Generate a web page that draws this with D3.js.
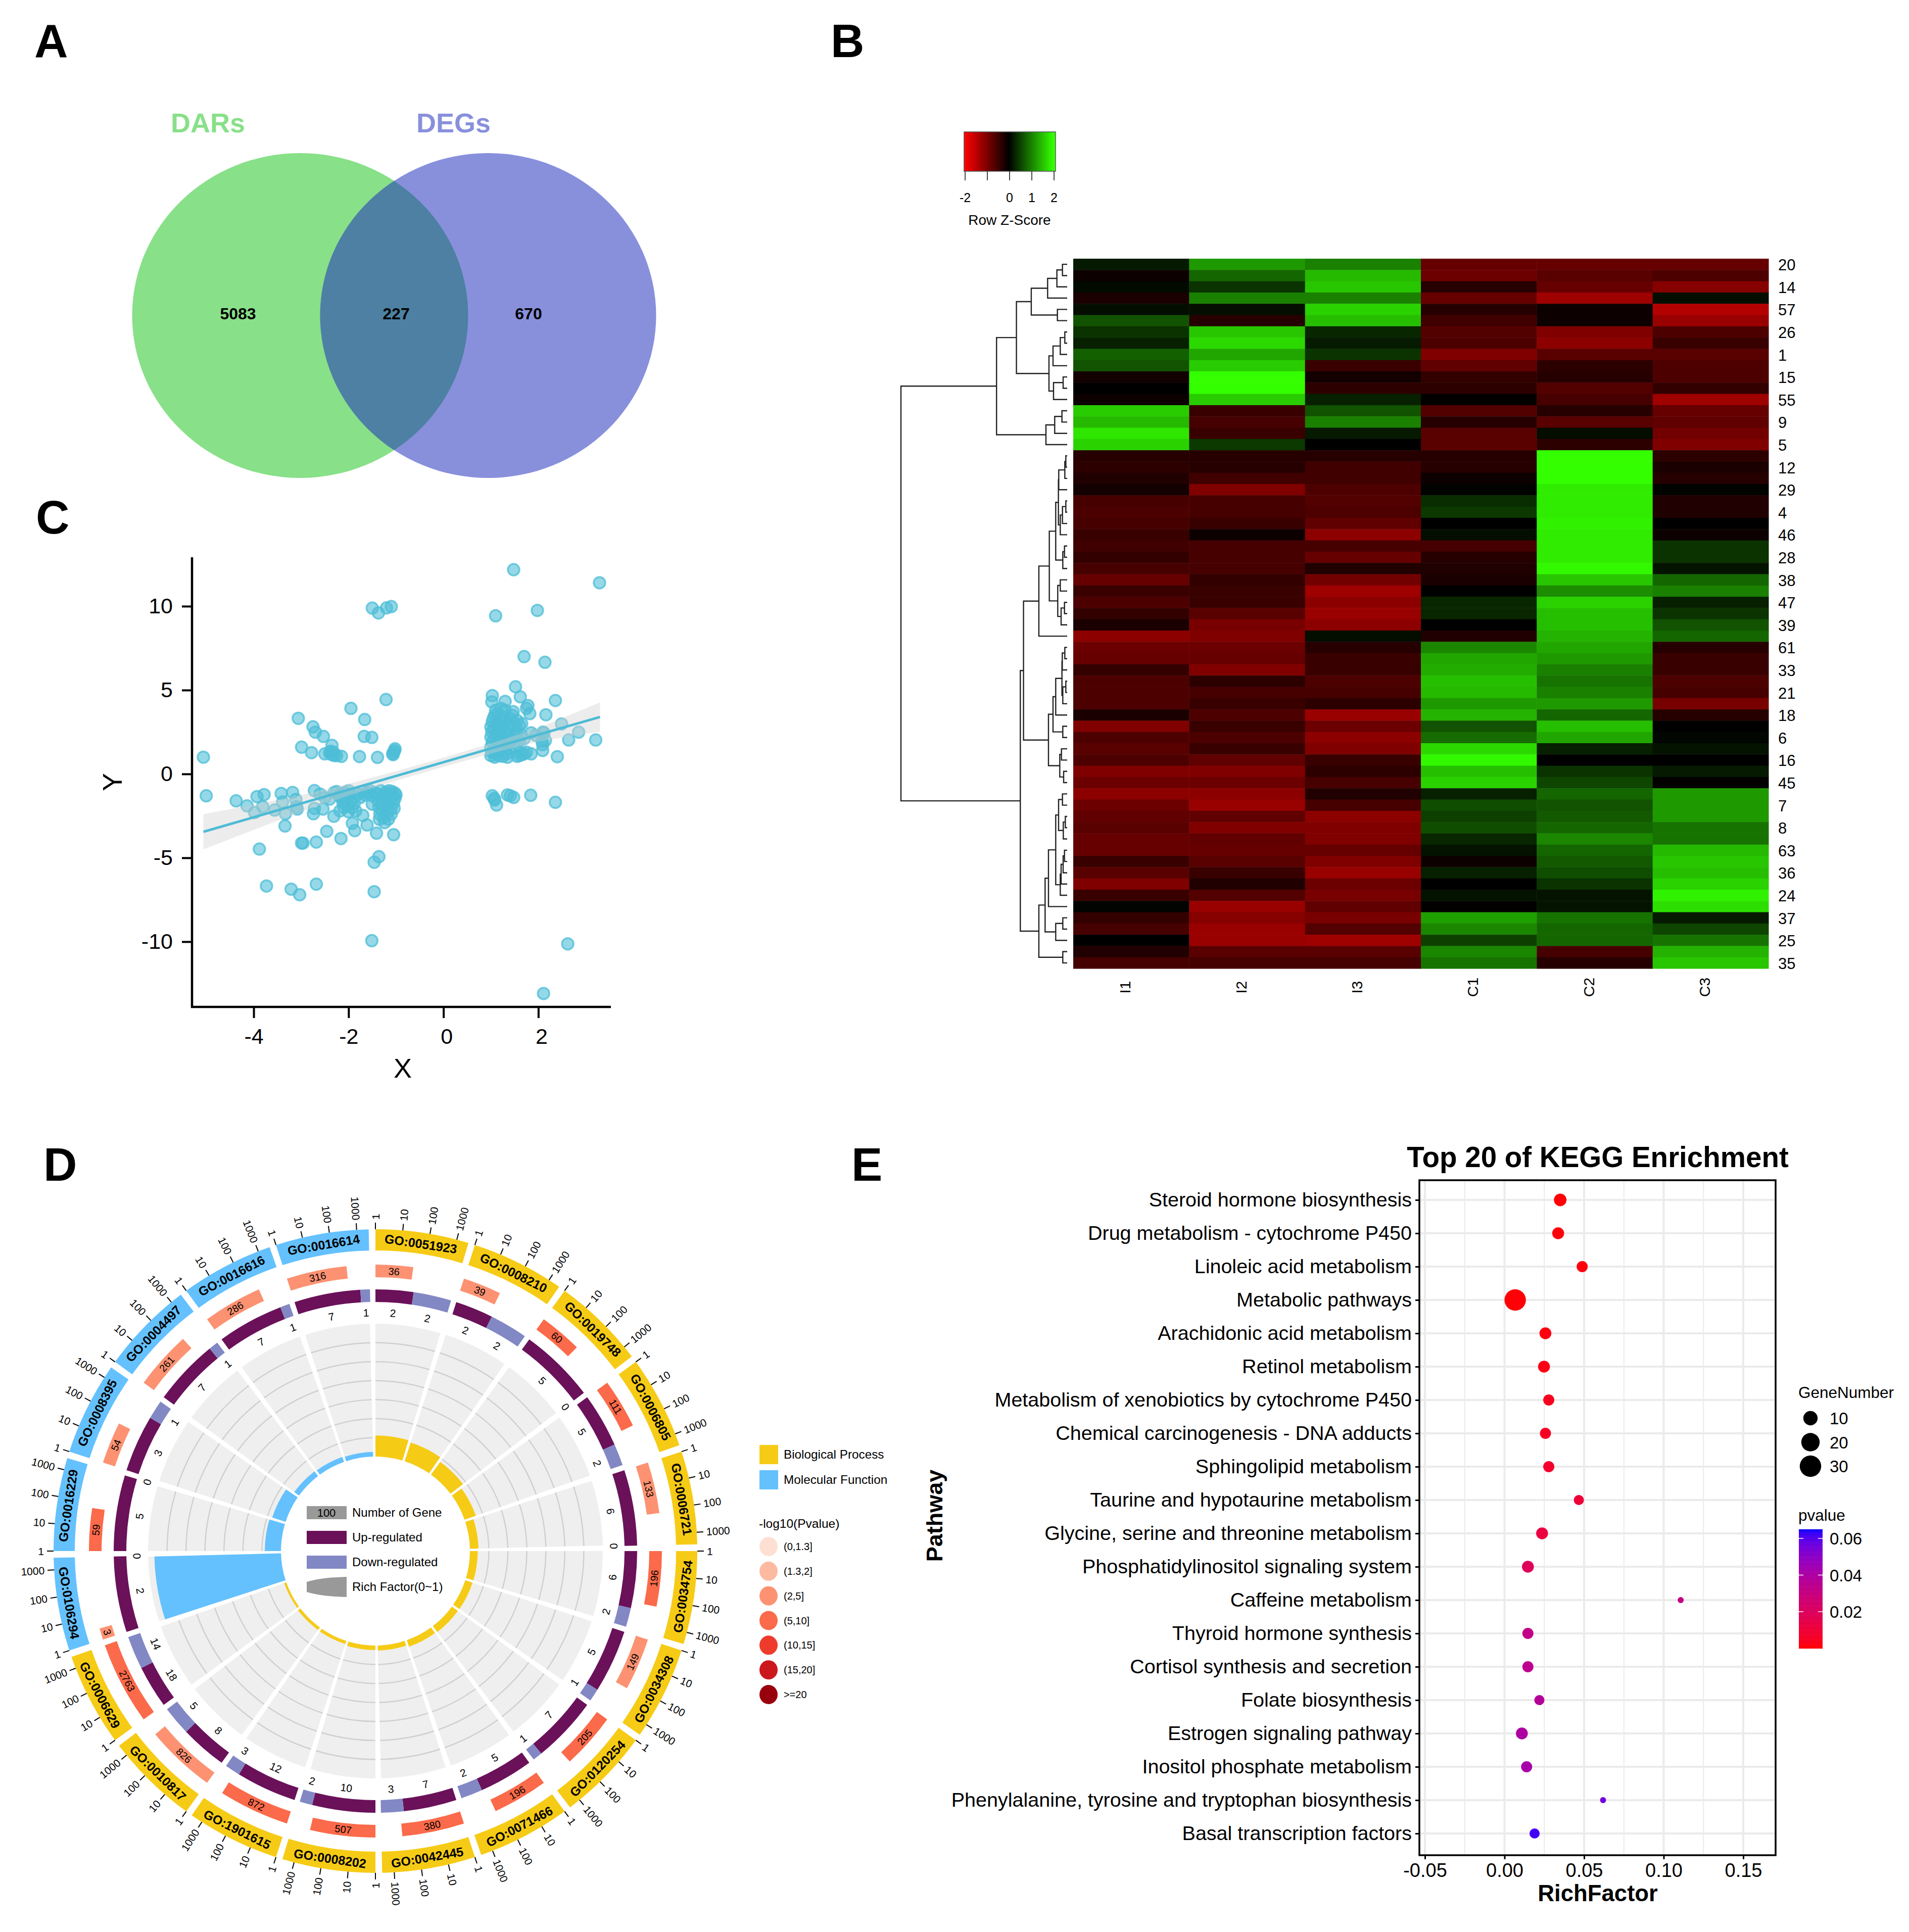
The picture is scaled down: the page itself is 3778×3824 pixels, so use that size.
<!DOCTYPE html>
<html><head><meta charset="utf-8">
<style>html,body{margin:0;padding:0;background:#fff}svg{display:block}text{font-family:"Liberation Sans",Arial,sans-serif}</style>
<script src="https://cdn.jsdelivr.net/npm/d3@7"></script></head><body>
<script>
// ---------- Panel A
const vennSets = ["DARs","DEGs"];
const vennCounts = [5083,227,670];
// ---------- Panel B
const heatCols = ["I1","I2","I3","C1","C2","C3"];
const heatRowLabels = [20,14,57,26,1,15,55,9,5,12,29,4,46,28,38,47,39,61,33,21,18,6,16,45,7,8,63,36,24,37,25,35];
const heatZ = [
[.2,1.2,1,-.8,-.8,-.8],[-.1,.8,1.45,-.85,-.7,-.6],[.08,.4,1.55,-.3,-.8,-1.05],[-.2,1,1,-.8,-1.25,.1],
[.1,.1,1.65,-.3,-.1,-1.4],[.65,-.3,1.5,-.5,-.1,-1.2],[.4,1.55,.3,-.65,-1,-.6],[.25,1.7,.2,-.6,-1.1,-.45],
[.75,1.3,.4,-1,-.7,-.7],[.65,1.6,-.45,-.75,-.35,-.6],[-.15,2,-.15,-.4,-.3,-.6],[0,2,-.35,-.35,-.65,-.4],
[-.1,1.6,.25,-.02,-.55,-1.25],[1.6,-.45,.65,-.65,-.3,-.8],[1.45,-.55,1,-.3,-.7,-.75],[1.8,-.45,.2,-.7,.1,-.9],
[1.65,.45,0,-.7,-.35,-1],[-.3,-.3,-.3,-.3,2,-.35],[-.35,-.3,-.5,-.3,2,-.2],[-.25,-.5,-.5,-.1,2,-.3],
[-.15,-1,-.6,.02,1.85,.02],[-.55,-.55,-.65,.35,1.85,-.25],[-.6,-.55,-.6,.45,1.85,-.25],[-.55,-.45,-.75,0,1.9,0],
[-.45,-.1,-1.1,.1,1.85,-.1],[-.5,-.55,-.55,-.55,1.85,.4],[-.4,-.55,-.8,-.3,1.85,.4],[-.55,-.55,-.25,-.25,1.95,.15],
[-.8,-.4,-.9,-.2,1.55,.8],[-.45,-.45,-1.25,0,1.1,1],[-.6,-.45,-1.1,.3,1.65,.25],[-.4,-.7,-1.2,.3,1.5,.4],
[-.2,-.95,-1.1,0,1.5,.65],[-1.1,-1,.1,-.25,1.4,.8],[-.85,-.85,-.3,1.05,1.3,-.3],[-.8,-.8,-.45,1.3,1.2,-.45],
[-.4,-1,-.45,1.35,1,-.45],[-.6,-.35,-.6,1.5,.9,-.6],[-.6,-.55,-.55,1.45,1,-.55],[-.6,-.45,-.35,1.2,1.2,-.95],
[-.2,-.6,-1.2,1.4,.8,-.3],[-1,-.45,-.85,.65,1.5,0],[-.6,-.6,-1.1,.85,1.3,.05],[-.7,-.45,-1,1.7,.25,.15],
[-.6,-.75,-.45,1.95,0,0],[-1,-1,-.35,1.5,.4,.2],[-.85,-.85,-.55,1.65,.55,-.02],[-1.1,-1.1,-.25,.25,.8,1.2],
[-.85,-1.2,-.55,.6,.65,1.2],[-.75,-.75,-1.1,.5,.7,1.2],[-.7,-1,-1,.6,.8,.9],[-.8,-.75,-1,.3,1.05,.9],
[-.8,-.8,-.8,.15,.8,1.45],[-.45,-.7,-1,-.1,.7,1.55],[-.7,-.45,-1.2,.25,.6,1.5],[-1,-.25,-.85,0,.4,1.65],
[-.45,-.65,-.95,.15,.15,1.9],[.03,-1.2,-.75,-.02,.15,1.75],[-.4,-1.05,-.95,1.25,.9,.2],[-.55,-1.2,-.65,1.05,.8,.55],
[0,-1.2,-1.25,.5,.8,.9],[-.25,-.7,-.7,1.05,-.55,1.4],[-.55,-.55,-.55,.9,-.3,1.55]];
// dendrogram: [height, child, child]; numbers are 1-based row positions
const rowTree = [9.86,
 [4.19,
  [3.01,
   [2.13,[1.16,[.61,[.28,1,2],3],4],[.58,5,6]],
   [1.08,[.84,[.41,[.14,7,8],9],10],[.81,[.24,11,12],13]]],
  [1.26,[.74,[.31,14,15],16],17]],
 [2.78,
  [2.59,
   [1.68,
    [1.06,
     [.68,[.52,[.5,[.14,[.08,18,19],20],21],[.41,[.28,[.08,22,23],24],25]],[.26,[.16,26,27],28]],
     [.56,[.41,29,30],[.36,[.16,31,32],33]]],
    34],
   [1.11,
    [.84,[.68,[.31,[.29,[.14,35,36],37],[.26,[.08,38,39],40]],41],[.26,42,43]],
    [.44,[.34,44,45],[.21,46,47]]]],
  [1.68,
   [1.31,
    [1.11,[.68,[.51,[.28,48,49],[.23,[.11,50,51],52]],[.41,[.36,[.24,[.16,53,54],55],56],57]],58],
    [.68,[.26,59,60],61]],
   [.26,62,63]]]];
const zKeyTicks = [-2,0,1,2];
// ---------- Panel C
const scatterPoints = [
[-5.06,1],[-5,-1.3],[-4.37,-1.6],[-4.14,-1.9],[-3.98,-2.3],[-3.93,-1.35],[-3.78,-1.23],[-3.81,-1.95],[-3.56,-2.15],[-3.42,-1.16],[-3.39,-1.67],[-3.33,-2.37],[-3.34,-3.1],[-3.18,-1.1],[-3.11,-1.52],[-3.08,-2.09],[-3.1,-1.95],[-2.99,-4.12],[-2.96,-4.12],[-3.88,-4.48],[-3.73,-6.68],[-3.21,-6.87],[-3.03,-7.2],[-2.68,-6.57],[-2.68,-4.06],[-2.46,-3.42],[-2.16,-3.85],
[-3.06,3.32],[-2.99,1.6],[-2.78,1.27],[-2.75,2.81],[-2.7,2.49],[-2.53,2.24],[-2.35,1.71],[-2.5,1.2],[-2.4,1.25],[-2.35,1.15],[-2.3,1.1],[-2.25,1.1],[-2.15,1.05],[-2.38,1.35],[-2.32,1.3],[-1.95,3.91],[-1.66,3.25],[-1.67,2.24],[-1.51,2.18],[-1.77,1.04],[-1.39,.99],[-1.21,4.44],[-1.07,1.2],[-1.05,1.3],[-1.03,1.4],[-1.02,1.5],[-1.06,1.15],
[-1.5,9.89],[-1.37,9.6],[-1.2,9.9],[-1.1,9.98],[-1.51,-9.94],[-1.46,-7.02],[-1.46,-5.26],[-1.36,-4.93],[-1.41,-3.53],[-1.05,-3.62],[-1.87,-3.38],[-1.92,-2.94],[-1.61,-3.04],[-1.7,-2.47],[-2.31,-2.52],[-2.54,-2.09],[-2.74,-2.37],[-2.72,-2.05],[-2.72,-.99],
[-2.6,-1.2],[-2.5,-1.4],[-2.4,-1.5],[-2.3,-1.1],[-2.25,-1.05],[-2.2,-1.3],[-2.15,-1.4],[-2.12,-1.7],[-2.1,-2],[-2.18,-2.2],[-2.05,-1.5],[-2.02,-1.9],[-2,-2.25],[-1.98,-1.2],[-1.95,-1.6],[-1.92,-2],[-1.9,-1.35],[-1.88,-1.75],[-2.08,-1.1],[-2,-1],[-1.85,-2.2],[-1.8,-1.2],[-1.75,-1.4],[-1.7,-1.05],[-1.65,-1.25],[-1.6,-1.1],[-1.55,-1],[-1.5,-1.3],[-1.5,-1.8],[-1.45,-1.1],
[-1.4,-1.2],[-1.38,-1.6],[-1.36,-2],[-1.34,-2.4],[-1.32,-1],[-1.3,-1.4],[-1.3,-1.8],[-1.28,-2.2],[-1.26,-2.6],[-1.24,-2.9],[-1.22,-1.1],[-1.2,-1.5],[-1.2,-1.9],[-1.18,-2.3],[-1.16,-2.7],[-1.14,-1.2],[-1.12,-1.6],[-1.1,-2],[-1.1,-2.4],[-1.08,-1.05],[-1.06,-1.3],[-1.05,-1.7],[-1.04,-2.05],[-1.02,-1.15],[-1,-1.25],[-1.02,-1.45],[-1.15,-1],[-1.25,-1.3],[-1.35,-2.7],
[1.48,12.18],[3.29,11.4],[1.98,9.75],[1.1,9.43],[1.7,7],[2.14,6.66],[1.52,5.2],[1.62,4.6],[1.03,4.67],[1.02,4.3],[1.3,4.33],[2.36,4.38],[1.78,4.08],[1.75,3.91],[1.82,3.6],[1.47,3.72],[2.16,3.53],[2.49,2.98],[2.85,2.49],[2.64,2.03],[3.21,2.03],[2.12,2.45],[2.15,2],[2.09,1.75],[2.09,1.4],[2.4,1.03],[1.85,1.2],[1.84,-1.27],[2.36,-1.69],[2.62,-10.13],[2.11,-13.09],[1.03,-1.3],[1.07,-1.45],[1.12,-1.85],[1.08,-1.55],[1.35,-1.25],[1.41,-1.3],[1.48,-1.4],
[1,1.1],[1.02,1.3],[1,1.6],[1.03,1.9],[1,2.2],[1.02,2.5],[1,2.8],[1.03,3.1],[1.05,3.3],[1.08,1],[1.1,1.25],[1.08,1.5],[1.12,1.8],[1.07,2.1],[1.1,2.4],[1.06,2.7],[1.12,3],[1.08,3.5],[1.1,3.8],[1.15,1.1],[1.18,1.4],[1.16,1.7],[1.2,2],[1.15,2.3],[1.18,2.6],[1.16,2.9],[1.2,3.2],[1.15,3.6],[1.22,3.9],[1.25,1.05],[1.28,1.3],[1.24,1.6],[1.3,1.9],[1.26,2.2],[1.3,2.5],[1.25,2.8],[1.3,3.1],[1.28,3.4],[1.3,3.8],[1.35,1],[1.33,1.2],[1.38,1.5],[1.36,1.8],[1.4,2.1],[1.35,2.4],[1.4,2.7],[1.38,3],[1.4,3.3],[1.45,3.5],[1.5,1.6],[1.45,2],[1.5,2.3],[1.55,2.6],[1.5,2.9],[1.55,3.2],[1.6,1.1],[1.55,1.05],[1.65,1.15],[1.62,1.3],[1.7,1.2],[1.75,1.3],[1.6,2],[1.65,2.3],[1.7,2.1],[1.6,2.9],[1.65,3],[1.85,2.45],[1.95,2.3],[2.1,2.5],[2.08,1.95]];
const regX  = [-5.06,-4,-3,-2,-1,0,1,2,3.3];
const regY  = [-3.45,-2.58,-1.76,-.94,-.12,.7,1.52,2.34,3.4];
const regHi = [-2.4,-1.83,-1.26,-.59,.16,.97,1.82,2.74,4.27];
const regLo = [-4.5,-3.33,-2.26,-1.29,-.4,.43,1.22,1.94,2.53];
const scatterXTicks = [-4,-2,0,2];
const scatterYTicks = [-10,-5,0,5,10];
// ---------- Panel D
const goTerms = ["GO:0051923","GO:0008210","GO:0019748","GO:0006805","GO:0006721","GO:0034754","GO:0034308","GO:0120254","GO:0071466","GO:0042445","GO:0008202","GO:1901615","GO:0010817","GO:0006629","GO:0106294","GO:0016229","GO:0008395","GO:0004497","GO:0016616","GO:0016614"];
const goGroup = ["BP","BP","BP","BP","BP","BP","BP","BP","BP","BP","BP","BP","BP","BP","MF","MF","MF","MF","MF","MF"];
const goCount = [36,39,60,111,133,196,149,205,196,380,507,872,826,2763,3,59,54,261,286,316];
const goPBin  = [2,2,3,3,2,3,2,3,3,3,3,3,2,3,2,3,2,2,2,2];
const goUp    = [2,2,5,5,6,6,5,7,5,7,10,12,8,18,2,5,3,7,7,7];
const goDown  = [2,2,0,2,0,2,1,1,2,3,2,3,5,14,0,0,1,1,1,1];
const goRich  = [.111,.103,.083,.063,.045,.041,.04,.039,.036,.026,.024,.017,.016,.012,.667,.085,.074,.031,.028,.025];
const geneTicks = [1,10,100,1000];
const pBinLabels = ["(0,1.3]","(1.3,2]","(2,5]","(5,10]","(10,15]","(15,20]",">=20"];
const pBinColors = ["#FEE0D2","#FCBBA1","#FC9272","#FB6A4A","#EF3B2C","#CB181D","#99000D"];
const groupLabels = ["Biological Process","Molecular Function"];
const innerLegend = ["Number of Gene","Up-regulated","Down-regulated","Rich Factor(0~1)"];
// ---------- Panel E
const keggPath = ["Steroid hormone biosynthesis","Drug metabolism - cytochrome P450","Linoleic acid metabolism","Metabolic pathways","Arachidonic acid metabolism","Retinol metabolism","Metabolism of xenobiotics by cytochrome P450","Chemical carcinogenesis - DNA adducts","Sphingolipid metabolism","Taurine and hypotaurine metabolism","Glycine, serine and threonine metabolism","Phosphatidylinositol signaling system","Caffeine metabolism","Thyroid hormone synthesis","Cortisol synthesis and secretion","Folate biosynthesis","Estrogen signaling pathway","Inositol phosphate metabolism","Phenylalanine, tyrosine and tryptophan biosynthesis","Basal transcription factors"];
const keggRich = [.035,.0337,.0488,.0067,.0257,.0248,.0278,.0257,.0278,.0467,.0236,.0147,.1107,.0147,.0147,.0219,.0109,.0139,.0619,.0189];
const keggGene = [7,6,5,30,6,6,5,5,5,4,6,6,2,5,5,4,6,5,2,4];
const keggP    = [.0005,.0008,.0012,.0006,.002,.0022,.004,.005,.007,.01,.012,.019,.03,.032,.034,.037,.04,.042,.055,.062];
const keggSizeLegend = [10,20,30];
const keggPTicks = [.02,.04,.06];

const W=3778,H=3824;
const svg=d3.select("body").append("svg").attr("width",W).attr("height",H).attr("viewBox",`0 0 ${W} ${H}`);
svg.append("rect").attr("width",W).attr("height",H).attr("fill","#fff");
const BLACK="#000";
function txt(g,x,y,s,size,o={}){
  const t=g.append("text").attr("x",x).attr("y",y).text(s).attr("font-size",size).attr("fill",o.fill||BLACK)
   .attr("font-weight",o.weight||"normal").attr("text-anchor",o.anchor||"start");
  if(o.rotate!==undefined) t.attr("transform",`rotate(${o.rotate} ${x} ${y})`);
  if(o.central) t.attr("dominant-baseline","central");
  return t;
}
// panel letters
[["A",68,113],["B",1644,113],["C",71,1056],["D",86,2337],["E",1685,2337]].forEach(d=>txt(svg,d[1],d[2],d[0],92,{weight:"bold"}));

// ---- A: Venn
(function(){
  const g=svg.append("g");
  const vx=d3.scalePoint().domain(vennSets).range([594,966]);
  const cy=624.5, rx=332.5, ry=321.5;
  g.append("clipPath").attr("id","vclip").append("ellipse").attr("cx",vx("DARs")).attr("cy",cy).attr("rx",rx).attr("ry",ry);
  g.append("ellipse").attr("cx",vx("DARs")).attr("cy",cy).attr("rx",rx).attr("ry",ry).attr("fill","#88E088");
  g.append("ellipse").attr("cx",vx("DEGs")).attr("cy",cy).attr("rx",rx).attr("ry",ry).attr("fill","#8890DC");
  g.append("ellipse").attr("cx",vx("DEGs")).attr("cy",cy).attr("rx",rx).attr("ry",ry).attr("fill","#4D80A2").attr("clip-path","url(#vclip)");
  txt(g,338,262,vennSets[0],54,{weight:"bold",fill:"#88E088"});
  txt(g,824,262,vennSets[1],54,{weight:"bold",fill:"#8890DC"});
  [471,784,1046].forEach((x,i)=>txt(g,x,632,vennCounts[i],32,{weight:"bold",anchor:"middle"}));
})();

// ---- B: Heatmap
(function(){
  const g=svg.append("g");
  const x=d3.scaleBand().domain(heatCols).range([2124,3500]);
  const y=d3.scaleBand().domain(d3.range(1,heatZ.length+1)).range([512,1917]);
  const col=z=>{const t=Math.min(1,Math.abs(z)/2);return z>=0?d3.rgb(51*t,255*t,0):d3.rgb(255*t,0,0);};
  heatZ.forEach((row,i)=>row.forEach((z,j)=>{
    g.append("rect").attr("x",x(heatCols[j])).attr("y",y(i+1)).attr("width",x.bandwidth()+.5).attr("height",y.bandwidth()+.5).attr("fill",col(z));
  }));
  heatRowLabels.forEach((l,i)=>txt(g,3519,y(2*i+1)+y.bandwidth()/2+12,l,31));
  heatCols.forEach(c=>{const cx=x(c)+x.bandwidth()/2-12; txt(g,cx,1954,c,30,{anchor:"middle",rotate:-90,central:true});});
  // dendrogram
  const h=d3.scaleLinear().domain([0,9.86]).range([2112,1783]);
  const line=d3.line();
  function walk(n){
    if(typeof n==="number") return {x:h(0),y:y(n)+y.bandwidth()/2};
    const a=walk(n[1]),b=walk(n[2]),X=h(n[0]);
    g.append("path").attr("d",line([[a.x,a.y],[X,a.y],[X,b.y],[b.x,b.y]])).attr("fill","none").attr("stroke","#222").attr("stroke-width",2.4);
    return {x:X,y:(a.y+b.y)/2};
  }
  walk(rowTree);
  // colour key
  const kx=d3.scaleLinear().domain([-2,2]).range([1910,2086]);
  d3.range(-2,2.001,.05).forEach(v=>g.append("rect").attr("x",kx(v)-2.4).attr("y",261).attr("width",5).attr("height",78).attr("fill",col(v)));
  g.append("rect").attr("x",1908).attr("y",261).attr("width",181).attr("height",78).attr("fill","none").attr("stroke","#555").attr("stroke-width",1.5);
  [-2,-1,0,1,2].forEach(v=>g.append("line").attr("x1",kx(v)).attr("x2",kx(v)).attr("y1",339).attr("y2",357).attr("stroke","#333").attr("stroke-width",1.8));
  zKeyTicks.forEach(v=>txt(g,kx(v),400,v,25,{anchor:"middle"}));
  txt(g,1998,445,"Row Z-Score",28,{anchor:"middle"});
})();

// ---- C: Scatter
(function(){
  const g=svg.append("g");
  const x=d3.scaleLinear().domain([-5.3,3.53]).range([380,1209]);
  const y=d3.scaleLinear().domain([-13.89,12.92]).range([1993,1103]);
  g.selectAll("circle").data(scatterPoints).join("circle").attr("cx",d=>x(d[0])).attr("cy",d=>y(d[1])).attr("r",11.5)
    .attr("fill","rgba(78,190,215,.6)").attr("stroke","rgba(78,190,215,.75)").attr("stroke-width",3.5);
  const area=d3.area().x((d,i)=>x(regX[i])).y0((d,i)=>y(regLo[i])).y1((d,i)=>y(regHi[i]));
  g.append("path").attr("d",area(regX)).attr("fill","#cfcfcf").attr("opacity",.4);
  g.append("path").attr("d",d3.line().x((d,i)=>x(regX[i])).y(d=>y(d))(regY)).attr("fill","none").attr("stroke","#4DBBD5").attr("stroke-width",5);
  const style=s=>{s.select(".domain").remove();s.selectAll("line").attr("stroke","#000").attr("stroke-width",4);s.selectAll("text").attr("font-size",43).attr("font-family","Liberation Sans").attr("fill","#000").text(function(){return this.textContent.replace("\u2212","-");});};
  const xa=g.append("g").attr("transform","translate(0,1993)").call(d3.axisBottom(x).tickValues(scatterXTicks).tickSize(22).tickPadding(20).tickFormat(d3.format("d"))).call(style);
  xa.selectAll("text").attr("dx",d=>d>=0?6:0);
  g.append("g").attr("transform","translate(380,0)").call(d3.axisLeft(y).tickValues(scatterYTicks).tickSize(20).tickPadding(18).tickFormat(d3.format("d"))).call(style);
  g.append("line").attr("x1",380).attr("x2",380).attr("y1",1103).attr("y2",1995).attr("stroke","#000").attr("stroke-width",4.5);
  g.append("line").attr("x1",378).attr("x2",1209).attr("y1",1993).attr("y2",1993).attr("stroke","#000").attr("stroke-width",4.5);
  txt(g,797,2133,"X",54,{anchor:"middle"});
  txt(g,241,1548,"Y",54,{anchor:"middle",rotate:-90});
})();

// ---- D: circos
(function(){
  const g=svg.append("g").attr("transform","translate(743,3070)");
  const rad=d=>d*Math.PI/180, sec=i=>i*18, SPAN=16.8;
  const arc=d3.arc();
  const seg=(r0,r1,a0,a1,fill)=>g.append("path").attr("d",arc({innerRadius:r0,outerRadius:r1,startAngle:rad(a0),endAngle:rad(a1)})).attr("fill",fill);
  const pos=(r,a)=>[r*Math.sin(rad(a)),-r*Math.cos(rad(a))];
  const tang=(a)=>{const m=((a%360)+360)%360;return (m>90&&m<270)?m-180:m;};
  function tangText(r,a,s,size,weight){
    const p=pos(r,a);
    g.append("text").attr("transform",`translate(${p[0]},${p[1]}) rotate(${tang(a)})`).attr("text-anchor","middle").attr("dominant-baseline","central")
      .attr("font-size",size).attr("font-weight",weight||"normal").attr("fill","#000").text(s);
  }
  const logA=d3.scaleLog().domain([1,2763]).range([0,SPAN]);
  const richR=d3.scaleLinear().domain([0,.7]).range([187,450]);
  const groupCol={BP:"#F6CB16",MF:"#64C1FE"};
  goTerms.forEach((t,i)=>{
    const s=sec(i);
    // outer ring
    seg(595,637,s,s+SPAN,groupCol[goGroup[i]]);
    tangText(615,s+SPAN/2,t,25,"bold");
    // ticks
    geneTicks.forEach(v=>{
      const a=s+logA(v),p0=pos(637,a),p1=pos(650,a),p2=pos(656,a),m=((a%360)+360)%360;
      g.append("line").attr("x1",p0[0]).attr("y1",p0[1]).attr("x2",p1[0]).attr("y2",p1[1]).attr("stroke","#000").attr("stroke-width",2);
      const right=m<180;
      g.append("text").attr("transform",`translate(${p2[0]},${p2[1]}) rotate(${right?m-90:m+90})`).attr("text-anchor",right?"start":"end").attr("dominant-baseline","central").attr("font-size",21).attr("fill","#000").text(v);
    });
    // gene count ring
    const ae=s+logA(goCount[i]);
    seg(542,567,s,ae,pBinColors[goPBin[i]]);
    tangText(554.5,(s+ae)/2,goCount[i],20);
    // up/down
    const tot=goUp[i]+goDown[i],am=s+SPAN*goUp[i]/tot;
    seg(493,518,s,am,"#6A1159");
    if(goDown[i]>0) seg(493,518,am,s+SPAN,"#8288C4");
    tangText(472,(s+am)/2,goUp[i],21);
    tangText(472,(am+s+SPAN)/2,goDown[i],21);
    // rich factor track
    seg(187,450,s,s+16.6,"#EFEFEF");
    [.1,.2,.3,.4,.5,.6].forEach(v=>seg(richR(v)-1.2,richR(v)+1.2,s,s+16.6,"#CFCFCF"));
    seg(187,richR(goRich[i]),s,s+16.6,groupCol[goGroup[i]]);
  });
  // inner legend
  const ig=svg.append("g");
  const ly=d3.scalePoint().domain(innerLegend).range([2994,3141]);
  [["#999999"],["#6A1159"],["#8288C4"]].forEach((c,i)=>ig.append("rect").attr("x",607).attr("y",ly(innerLegend[i])-13).attr("width",79).attr("height",26).attr("fill",c[0]));
  ig.append("path").attr("d",d3.area().x(d=>d[0]).y0(d=>d[1]).y1(d=>d[2]).curve(d3.curveBasis)([[607,3131,3151],[630,3125,3157],[660,3122,3160],[686,3121,3161]])).attr("fill","#999");
  txt(ig,646,ly(innerLegend[0])+8,"100",22,{anchor:"middle"});
  innerLegend.forEach(s=>txt(ig,697,ly(s)+8,s,24));
  // outer legend
  const lg=svg.append("g");
  const gy=d3.scalePoint().domain(groupLabels).range([2879,2929]);
  groupLabels.forEach((s,i)=>{
    lg.append("rect").attr("x",1503).attr("y",gy(s)-19).attr("width",37).attr("height",38).attr("fill",i?"#64C1FE":"#F6CB16");
    txt(lg,1551,gy(s)+8,s,24.3);
  });
  txt(lg,1502,3024,"-log10(Pvalue)",24.5);
  const py=d3.scalePoint().domain(pBinLabels).range([3061,3354]);
  pBinLabels.forEach((s,i)=>{
    lg.append("ellipse").attr("cx",1521).attr("cy",py(s)).attr("rx",18).attr("ry",19).attr("fill",pBinColors[i]);
    txt(lg,1551,py(s)+7,s,20);
  });
})();

// ---- E: KEGG dot plot
(function(){
  const g=svg.append("g");
  const L=2809,R=3514,T=2336,B=3672;
  const x=d3.scaleLinear().domain([-.05,.15]).range([2820,3450]);
  const y=d3.scalePoint().domain(keggPath).range([2375,3629]);
  [-.025,.025,.075,.125].forEach(v=>g.append("line").attr("x1",x(v)).attr("x2",x(v)).attr("y1",T).attr("y2",B).attr("stroke","#EBEBEB").attr("stroke-width",2));
  [-.05,0,.05,.1,.15].forEach(v=>g.append("line").attr("x1",x(v)).attr("x2",x(v)).attr("y1",T).attr("y2",B).attr("stroke","#EBEBEB").attr("stroke-width",4));
  keggPath.forEach(p=>g.append("line").attr("x1",L).attr("x2",R).attr("y1",y(p)).attr("y2",y(p)).attr("stroke","#EBEBEB").attr("stroke-width",4));
  const t01=d3.scaleLinear().domain([2,31]);
  const rScale=n=>d3.scaleLinear().domain([0,1]).range([6,21.5])(Math.sqrt(t01(n)));
  const pCol=d3.scaleLinear().domain([0,.0647]).range(["#ff0000","#0000ff"]).interpolate(d3.interpolateLab);
  g.selectAll("circle.k").data(keggPath).join("circle").attr("class","k").attr("cx",(d,i)=>x(keggRich[i])).attr("cy",d=>y(d)).attr("r",(d,i)=>rScale(keggGene[i])).attr("fill",(d,i)=>pCol(keggP[i]));
  g.append("rect").attr("x",L).attr("y",T).attr("width",R-L).attr("height",B-T).attr("fill","none").attr("stroke","#000").attr("stroke-width",3.5);
  const style=(s,fs)=>{s.select(".domain").remove();s.selectAll("line").attr("stroke","#000").attr("stroke-width",3);s.selectAll("text").attr("font-size",fs).attr("font-family","Liberation Sans").attr("fill","#000");};
  g.append("g").attr("transform",`translate(0,${B})`).call(d3.axisBottom(x).tickValues([-.05,0,.05,.1,.15]).tickSize(8).tickPadding(8).tickFormat(d=>d3.format(".2f")(d).replace("\u2212","-"))).call(style,38);
  g.append("g").attr("transform",`translate(${L},0)`).call(d3.axisLeft(y).tickSize(8).tickPadding(7)).call(style,39.5);
  txt(g,3162,2310,"Top 20 of KEGG Enrichment",56.5,{weight:"bold",anchor:"middle"});
  txt(g,3162,3763,"RichFactor",45.5,{weight:"bold",anchor:"middle"});
  txt(g,1865,3000,"Pathway",45,{weight:"bold",anchor:"middle",rotate:-90});
  // legends
  txt(g,3559,2767,"GeneNumber",31.5);
  const sy=d3.scalePoint().domain(keggSizeLegend).range([2807,2902]);
  keggSizeLegend.forEach(v=>{
    g.append("circle").attr("cx",3583).attr("cy",sy(v)).attr("r",rScale(v)).attr("fill","#000");
    txt(g,3621,sy(v)+12,v,33);
  });
  txt(g,3559,3010,"pvalue",31.5);
  const cy=d3.scaleLinear().domain([.02,.06]).range([3190,3045]);
  d3.range(0,.0647,.0005).forEach(v=>g.append("rect").attr("x",3560).attr("y",cy(v+.0005)).attr("width",47).attr("height",cy(v)-cy(v+.0005)+.6).attr("fill",pCol(v)));
  keggPTicks.forEach(v=>{
    g.append("line").attr("x1",3560).attr("x2",3569).attr("y1",cy(v)).attr("y2",cy(v)).attr("stroke","#fff").attr("stroke-width",1.5);
    g.append("line").attr("x1",3598).attr("x2",3607).attr("y1",cy(v)).attr("y2",cy(v)).attr("stroke","#fff").attr("stroke-width",1.5);
    txt(g,3621,cy(v)+12,d3.format(".2f")(v),33);
  });
})();
</script></body></html>
